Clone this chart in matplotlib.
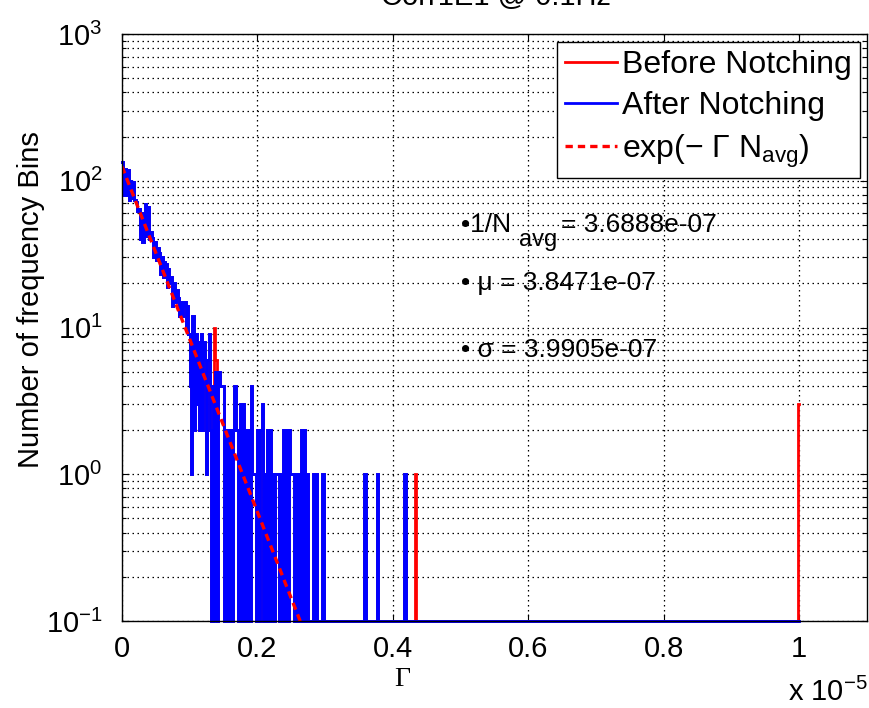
import numpy as np
import matplotlib
matplotlib.use("Agg")
import matplotlib.pyplot as plt
from matplotlib.lines import Line2D

plt.rcParams["font.family"] = ["Liberation Sans", "DejaVu Sans"]
plt.rcParams["mathtext.fontset"] = "custom"
plt.rcParams["mathtext.rm"] = "Liberation Sans"
plt.rcParams["mathtext.it"] = "Liberation Sans:italic"
plt.rcParams["mathtext.default"] = "regular"
plt.rcParams["path.simplify"] = False

# histogram of Gamma values, bin width 2e-8, 500 bins over 0 .. 1e-5
bin_width = 2e-8
n_bins = 500

# counts for bins 0..135 (after notching)
dense_after = [
    135, 80, 120, 80, 118, 74, 100, 76, 98, 74,
    72, 62, 64, 40, 60, 38, 58, 69, 42, 66,
    40, 45, 41, 30, 38, 29, 35, 32, 23, 30,
    22, 28, 27, 19, 25, 20, 22, 14, 20, 15,
    18, 16, 12, 15, 12, 14, 15, 10, 14, 9,
    4, 1, 12, 2, 9, 3, 8, 2, 9, 2,
    8, 6, 1, 6, 9, 2, 0, 4, 0, 5,
    0, 5, 4, 4, 4, 0, 2, 0, 2, 0,
    2, 0, 2, 4, 2, 2, 0, 3, 0, 3,
    0, 2, 0, 2, 0, 4, 1, 1, 1, 0,
    2, 0, 2, 3, 0, 1, 0, 2, 0, 2,
    0, 1, 0, 1, 1, 1, 0, 1, 0, 2,
    0, 2, 0, 2, 1, 1, 1, 0, 1, 0,
    1, 0, 2, 0, 2, 0,
]
# isolated bins further out (bin index: count)
sparse_after = {136: 1, 141: 1, 143: 1, 148: 1, 179: 1, 188: 1, 208: 1, 209: 1}
# bins where the un-notched histogram differs
before_diff = {67: 4, 68: 10, 69: 6, 216: 1, 499: 3}

# exponential fit and statistics
inv_navg = 3.6888e-07
mu = 3.8471e-07
sigma = 3.9905e-07
fit_amp = 125

xtick_vals = [0, 0.2e-5, 0.4e-5, 0.6e-5, 0.8e-5, 1.0e-5]
xtick_labels = ["0", "0.2", "0.4", "0.6", "0.8", "1"]

after = np.zeros(n_bins)
after[:len(dense_after)] = dense_after
for i, c in sparse_after.items():
    after[i] = c
before = after.copy()
for i, c in before_diff.items():
    before[i] = c

floor = 0.1
edges = np.arange(n_bins + 1) * bin_width
after_plot = np.where(after > 0, after, floor)
before_plot = np.where(before > 0, before, floor)

fig = plt.figure(figsize=(8.69, 7.08), dpi=100)
ax = fig.add_axes([122 / 869, 1 - 621 / 708, 745 / 869, 587 / 708])

ax.step(edges, np.append(before_plot, before_plot[-1]), where="post",
        color="#ff0000", lw=2, clip_on=False, solid_joinstyle="miter")
ax.step(edges, np.append(after_plot, after_plot[-1]), where="post",
        color="#0000ff", lw=2.1, clip_on=False, solid_joinstyle="miter")

g = np.linspace(0, 1.1e-5, 400)
fit = fit_amp * np.exp(-g / inv_navg)
ax.plot(g, fit, color="#ff0000", lw=2.4, dashes=(2.2, 1.5))

ax.set_yscale("log")
ax.set_ylim(0.1, 1000)
ax.set_xlim(0, 1.1e-5)
ax.set_xticks(xtick_vals, xtick_labels)
ax.minorticks_on()
ax.xaxis.set_minor_locator(matplotlib.ticker.NullLocator())

ax.grid(which="major", color="k", lw=0.9, ls=(0, (1.2, 2.8)))
ax.grid(which="minor", axis="y", color="k", lw=0.9, ls=(0, (1.2, 2.8)))
ax.set_axisbelow(True)

ax.tick_params(which="both", direction="in", top=True, right=True,
               labelsize=21, colors="k")
ax.tick_params(which="major", length=5, width=0.8)
ax.tick_params(axis="x", which="major", pad=10)
ax.tick_params(axis="y", which="major", pad=14)
ax.tick_params(which="minor", length=3, width=0.8)
for s in ax.spines.values():
    s.set_linewidth(1.0)
    s.set_color("k")

ax.set_ylabel("Number of frequency Bins", fontsize=21)
ax.yaxis.set_label_coords(-0.103, 0.547)
fig.text(402 / 869, 1 - 679 / 708, "Γ", fontsize=20, family="Liberation Serif",
         ha="center", va="center")
fig.text(868 / 869, 1 - 692 / 708, r"x 10$^{-5}$", fontsize=21,
         ha="right", va="center")
fig.text(496 / 869, 1 - 5 / 708, "Corr1E1 @ 0.1Hz", fontsize=21,
         ha="center", va="baseline")

# statistics text, MATLAB-style with a large "avg" subscript
txt_x = 0.5e-5
ax.text(txt_x, 50, "•1/N", fontsize=19, va="center", ha="left")
ax.annotate("avg", (txt_x, 50), xytext=(42, -11), textcoords="offset points",
            fontsize=17, va="center", ha="left")
ax.annotate("= %.4e" % inv_navg, (txt_x, 50), xytext=(72, 0),
            textcoords="offset points", fontsize=19, va="center", ha="left")
ax.text(txt_x, 20, "• μ = %.4e" % mu, fontsize=19, va="center", ha="left")
ax.text(txt_x, 7, "• σ = %.4e" % sigma, fontsize=19, va="center", ha="left")

handles = [
    Line2D([], [], color="#ff0000", lw=2),
    Line2D([], [], color="#0000ff", lw=2),
    Line2D([], [], color="#ff0000", lw=2.4, dashes=(2.2, 1.5)),
]
labels = ["Before Notching", "After Notching", "exp(− Γ N$_{avg}$)"]
leg = ax.legend(handles, labels, loc="upper right",
                fontsize=23, frameon=True, fancybox=False, framealpha=1,
                edgecolor="k", handlelength=1.6, handletextpad=0.18,
                borderpad=0.25, labelspacing=0.35, borderaxespad=0)
leg.set_bbox_to_anchor((860 / 869, 1 - 42 / 708), transform=fig.transFigure)
leg.get_frame().set_linewidth(1.0)

fig.savefig("out.png", dpi=100)
